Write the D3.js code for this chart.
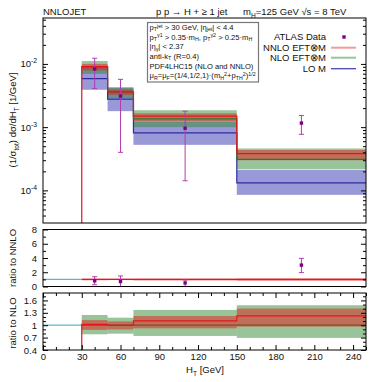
<!DOCTYPE html>
<html><head><meta charset="utf-8">
<script src="https://cdn.jsdelivr.net/npm/d3@7"></script>
<style>body{margin:0;background:#fff}svg{display:block;font-family:"Liberation Sans",Arial,sans-serif}</style>
</head><body>
<script>
// ---------------- data ----------------
const binEdges = [30, 50, 70, 150, 250];
const nnloC  = [9.1e-3, 3.6e-3, 1.49e-3, 3.8e-4];
const nnloLo = [7.9e-3, 3.25e-3, 1.25e-3, 3.0e-4];
const nnloHi = [1.0e-2, 3.95e-3, 1.65e-3, 4.35e-4];
const nloC   = [8.9e-3, 3.62e-3, 1.35e-3, 3.1e-4];
const nloLo  = [6.95e-3, 2.88e-3, 1.0e-3, 2.15e-4];
const nloHi  = [1.11e-2, 4.28e-3, 1.85e-3, 4.6e-4];
const loC    = [5.86e-3, 2.77e-3, 8.1e-4, 1.31e-4];
const loLo   = [3.9e-3, 1.79e-3, 5.25e-4, 8.5e-5];
const loHi   = [8.8e-3, 4.2e-3, 1.23e-3, 2.1e-4];
const dataX  = [40, 60, 110, 200];
const dataY  = [8.3e-3, 3.1e-3, 9.6e-4, 1.16e-3];
const dataLo = [4.1e-3, 4.0e-4, 1.42e-4, 7.7e-4];
const dataHi = [1.23e-2, 5.7e-3, 1.79e-3, 1.53e-3];
const ratioDataY  = [0.8, 0.7, 0.5, 3.0];
const ratioDataLo = [0.25, 0.0, 0.0, 1.95];
const ratioDataHi = [1.37, 1.48, 0.92, 3.95];
const xTicks = [0, 30, 60, 90, 120, 150, 180, 210, 240];
const mainYTicks = [1e-4, 1e-3, 1e-2];
const mainYLabels = [["10","-4"],["10","-3"],["10","-2"]];
const r1Ticks = [0, 2, 4, 6, 8];
const r2Ticks = [0.4, 0.7, 1, 1.3, 1.6];
const r2Labels = ["0.4", "0.7", "1", "1.3", "1.6"];
const legendLabels = ["ATLAS Data", "NNLO EFT⊗M", "NLO EFT⊗M", "LO M"];

// ---------------- setup ----------------
const svg = d3.select("body").append("svg").attr("width", 382).attr("height", 382);
const FS = 9.5;
const x = d3.scaleLinear([0, 250], [43, 366]);
const yM = d3.scaleLog([3.05e-5, 0.0532], [223, 18]);
const yR1 = d3.scaleLinear([0, 8], [286.5, 229.5]);
const yR2 = d3.scaleLinear([0.4, 1.78], [350, 293]);

const C = {
  loBand: "#3333b0", nloBand: "#338933", nnloBand: "#e31b1b",
  lo: "#2c2ca0", nlo: "#2a7a2a", nnlo: "#e8141c", cyan: "#5cb8c0",
  dat: "#800080", err: "#b23cb2"
};

function rich(textSel, segs, fs, supK = 0.38, subK = 0.28) {
  const sup = -supK * fs, sub = subK * fs, small = 0.7 * fs;
  let cur = 0;
  segs.forEach(seg => {
    if (typeof seg === "string") {
      textSel.append("tspan").attr("dy", -cur).text(seg);
      cur = 0;
    } else if (seg.sup !== undefined) {
      textSel.append("tspan").attr("font-size", small).attr("dy", sup - cur).text(seg.sup);
      cur = sup;
    } else {
      textSel.append("tspan").attr("font-size", small).attr("dy", sub - cur).text(seg.sub);
      cur = sub;
    }
  });
}

const bins = d3.range(binEdges.length - 1).map(i => ({x0: binEdges[i], x1: binEdges[i + 1], i}));

function clip(id, y0, y1) {
  svg.append("clipPath").attr("id", id).append("rect")
    .attr("x", x(0)).attr("y", y0).attr("width", x(250) - x(0)).attr("height", y1 - y0);
  return svg.append("g").attr("clip-path", `url(#${id})`);
}
function stepPath(vals, y, startBottom, bottomY) {
  const p = d3.path();
  if (startBottom) { p.moveTo(x(binEdges[0]), bottomY); p.lineTo(x(binEdges[0]), y(vals[0])); }
  else p.moveTo(x(binEdges[0]), y(vals[0]));
  vals.forEach((v, i) => {
    p.lineTo(x(binEdges[i]), y(v));
    p.lineTo(x(binEdges[i + 1]), y(v));
  });
  return p.toString();
}
function bands(g, lo, hi, y, color, op) {
  g.selectAll(null).data(bins).join("rect")
    .attr("x", d => x(d.x0)).attr("width", d => x(d.x1) - x(d.x0))
    .attr("y", d => y(hi[d.i])).attr("height", d => y(lo[d.i]) - y(hi[d.i]))
    .attr("fill", color).attr("fill-opacity", op);
}
function errPoints(g, xs, ys, los, his, y) {
  xs.forEach((xv, i) => {
    const cx = x(xv);
    const top = y(his[i]), bot = y(los[i]);
    g.append("line").attr("x1", cx).attr("x2", cx).attr("y1", top).attr("y2", bot).attr("stroke", C.err).attr("stroke-width", 1);
    g.append("line").attr("x1", cx - 2.5).attr("x2", cx + 2.5).attr("y1", top).attr("y2", top).attr("stroke", C.err).attr("stroke-width", 1);
    g.append("line").attr("x1", cx - 2.5).attr("x2", cx + 2.5).attr("y1", bot).attr("y2", bot).attr("stroke", C.err).attr("stroke-width", 1);
    g.append("rect").attr("x", cx - 1.7).attr("y", y(ys[i]) - 1.7).attr("width", 3.4).attr("height", 3.4).attr("fill", C.dat);
  });
}
function yAxes(scale, major, minor, labels) {
  const gl = svg.append("g").attr("transform", `translate(${x(0)},0)`)
    .call(d3.axisLeft(scale).tickValues(major).tickSize(-5).tickPadding(6).tickFormat((d, i) => labels ? labels[i] : ""));
  gl.select(".domain").remove();
  gl.selectAll("text").attr("font-size", FS).attr("font-family", "Liberation Sans").attr("fill", "#111");
  const gm = svg.append("g").attr("transform", `translate(${x(0)},0)`)
    .call(d3.axisLeft(scale).tickValues(minor).tickSize(-3).tickFormat(""));
  gm.select(".domain").remove();
  const gr = svg.append("g").attr("transform", `translate(${x(250)},0)`)
    .call(d3.axisRight(scale).tickValues(major).tickSize(-5).tickFormat(""));
  gr.select(".domain").remove();
  const grm = svg.append("g").attr("transform", `translate(${x(250)},0)`)
    .call(d3.axisRight(scale).tickValues(minor).tickSize(-3).tickFormat(""));
  grm.select(".domain").remove();
  return gl;
}
function frame(y0, y1) {
  svg.append("rect").attr("x", x(0)).attr("y", y0).attr("width", x(250) - x(0)).attr("height", y1 - y0)
    .attr("fill", "none").attr("stroke", "#000").attr("stroke-width", 1);
}

// ---------------- main panel ----------------
const gM = clip("cM", 18, 223);
bands(gM, loLo, loHi, yM, C.loBand, 0.5);
bands(gM, nloLo, nloHi, yM, C.nloBand, 0.5);
bands(gM, nnloLo, nnloHi, yM, C.nnloBand, 0.5);
gM.append("path").attr("d", stepPath(loC, yM, false)).attr("fill", "none").attr("stroke", C.lo).attr("stroke-width", 1.2);
gM.append("path").attr("d", stepPath(nloC, yM, false)).attr("fill", "none").attr("stroke", C.nlo).attr("stroke-width", 1.2);
gM.append("path").attr("d", stepPath(nnloC, yM, true, 224)).attr("fill", "none").attr("stroke", C.nnlo).attr("stroke-width", 1.2);
errPoints(gM, dataX, dataY, dataLo, dataHi, yM);

const logMinor = [];
[-5, -4, -3, -2].forEach(e => d3.range(2, 10).forEach(m => {
  const v = m * Math.pow(10, e);
  if (v > yM.domain()[0] && v < yM.domain()[1]) logMinor.push(v);
}));
yAxes(yM, mainYTicks, logMinor, null);
mainYTicks.forEach((v, i) => {
  const t = svg.append("text").attr("x", 37).attr("y", yM(v) + 3.5).attr("text-anchor", "end")
    .attr("font-size", FS).attr("fill", "#111");
  t.append("tspan").text(mainYLabels[i][0]);
  t.append("tspan").attr("font-size", 6.8).attr("dy", -4).text(mainYLabels[i][1]);
});
frame(18, 223);

// ---------------- ratio to NNLO ----------------
const g1 = clip("c1", 229.5, 286.5);
const r1Lo = nnloLo.map((v, i) => v / nnloC[i]);
const r1Hi = nnloHi.map((v, i) => v / nnloC[i]);
const r1C = nnloC.map((v, i) => v / nnloC[i]);
bands(g1, r1Lo, r1Hi, yR1, C.nnloBand, 0.5);
g1.append("line").attr("x1", x(0)).attr("x2", x(30)).attr("y1", yR1(1)).attr("y2", yR1(1)).attr("stroke", C.cyan).attr("stroke-width", 1.2);
g1.append("path").attr("d", stepPath(r1C, yR1, false)).attr("fill", "none").attr("stroke", C.nnlo).attr("stroke-width", 1.2);
errPoints(g1, dataX, ratioDataY, ratioDataLo, ratioDataHi, yR1);
yAxes(yR1, r1Ticks, [1, 3, 5, 7], r1Ticks.map(String));
frame(229.5, 286.5);

// ---------------- ratio to NLO ----------------
const g2 = clip("c2", 293, 350);
const nloRLo = nloLo.map((v, i) => v / nloC[i]);
const nloRHi = nloHi.map((v, i) => v / nloC[i]);
const nloR = nloC.map((v, i) => v / nloC[i]);
const nnloRLo = nnloLo.map((v, i) => v / nloC[i]);
const nnloRHi = nnloHi.map((v, i) => v / nloC[i]);
const nnloR = nnloC.map((v, i) => v / nloC[i]);
bands(g2, nloRLo, nloRHi, yR2, C.nloBand, 0.5);
g2.append("path").attr("d", stepPath(nloR, yR2, false)).attr("fill", "none").attr("stroke", C.nlo).attr("stroke-width", 1.2);
bands(g2, nnloRLo, nnloRHi, yR2, C.nnloBand, 0.5);
g2.append("line").attr("x1", x(0)).attr("x2", x(30)).attr("y1", yR2(1)).attr("y2", yR2(1)).attr("stroke", C.cyan).attr("stroke-width", 1.2);
g2.append("path").attr("d", stepPath(nnloR, yR2, true, 351)).attr("fill", "none").attr("stroke", C.nnlo).attr("stroke-width", 1.2);
const r2Minor = d3.range(5, 18).map(v => v / 10).filter(v => !r2Ticks.some(t => Math.abs(t - v) < 1e-6));
yAxes(yR2, r2Ticks, r2Minor, r2Labels);
// x axes
const xMinor = d3.range(0, 251, 10).filter(v => v % 30 !== 0);
const gxb = svg.append("g").attr("transform", "translate(0,350)")
  .call(d3.axisBottom(x).tickValues(xTicks).tickSize(-5).tickPadding(3));
gxb.select(".domain").remove();
gxb.selectAll("text").attr("font-size", FS).attr("font-family", "Liberation Sans").attr("fill", "#111");
svg.append("g").attr("transform", "translate(0,350)")
  .call(d3.axisBottom(x).tickValues(xMinor).tickSize(-3).tickFormat("")).select(".domain").remove();
svg.append("g").attr("transform", "translate(0,293)")
  .call(d3.axisTop(x).tickValues(xTicks).tickSize(-5).tickFormat("")).select(".domain").remove();
svg.append("g").attr("transform", "translate(0,293)")
  .call(d3.axisTop(x).tickValues(xMinor).tickSize(-3).tickFormat("")).select(".domain").remove();
frame(293, 350);

// ---------------- titles & labels ----------------
svg.append("text").attr("x", 43).attr("y", 15).attr("font-size", FS).attr("fill", "#111").text("NNLOJET");
svg.append("text").attr("x", 156).attr("y", 15).attr("font-size", FS).attr("fill", "#111").text("p p → H + ≥ 1 jet");
rich(svg.append("text").attr("x", 243).attr("y", 15).attr("font-size", FS).attr("fill", "#111"),
  ["m", {sub: "H"}, "=125 GeV √s  = 8 TeV"], FS);

rich(svg.append("text").attr("transform", "translate(16,120) rotate(-90)").attr("text-anchor", "middle").attr("font-size", FS).attr("fill", "#111"),
  ["(1/σ", {sub: "tot"}, ") dσ/dH", {sub: "T"}, " [1/GeV]"], FS);
svg.append("text").attr("transform", "translate(16,258) rotate(-90)").attr("text-anchor", "middle").attr("font-size", FS).attr("fill", "#111").text("ratio to NNLO");
svg.append("text").attr("transform", "translate(16,323) rotate(-90)").attr("text-anchor", "middle").attr("font-size", FS).attr("fill", "#111").text("ratio to NLO");
rich(svg.append("text").attr("x", 205).attr("y", 373).attr("text-anchor", "middle").attr("font-size", FS).attr("fill", "#111"),
  ["H", {sub: "T"}, " [GeV]"], FS);

// cuts box
svg.append("rect").attr("x", 147.5).attr("y", 22.5).attr("width", 111).attr("height", 59.5)
  .attr("fill", "#fff").attr("stroke", "#777").attr("stroke-width", 1.2);
const cutLines = [
  ["p", {sub: "T"}, {sup: "jet"}, " > 30 GeV, |η", {sub: "jet"}, "| < 4.4"],
  ["p", {sub: "T"}, {sup: "γ1"}, " > 0.35·m", {sub: "H"}, ", p", {sub: "T"}, {sup: "γ2"}, " > 0.25·m", {sub: "H"}],
  ["|η", {sub: "γ"}, "| < 2.37"],
  ["anti-k", {sub: "T"}, "   (R=0.4)"],
  ["PDF4LHC15 (NLO and NNLO)"],
  ["μ", {sub: "R"}, "=μ", {sub: "F"}, "=(1/4,1/2,1)·(m", {sub: "H"}, {sup: "2"}, "+p", {sub: "TH"}, {sup: "2"}, ")", {sup: "1/2"}]
];
cutLines.forEach((segs, i) => {
  rich(svg.append("text").attr("x", 149.5).attr("y", 29.8 + i * 9.7).attr("font-size", 7.6).attr("fill", "#111"), segs, 7.6, 0.3, 0.2);
});

// legend
const legY = [40, 51, 61, 72];
legendLabels.forEach((lab, i) => {
  svg.append("text").attr("x", 326).attr("y", legY[i]).attr("text-anchor", "end").attr("font-size", FS).attr("fill", "#111").text(lab);
});
svg.append("rect").attr("x", 342.3).attr("y", legY[0] - 4.7).attr("width", 3.4).attr("height", 3.4).attr("fill", C.dat);
const legLine = [[null], ["#f49a9a", 2], ["#99c499", 2], ["#4848a8", 1.3]];
[1, 2, 3].forEach(i => {
  svg.append("line").attr("x1", 331).attr("x2", 356).attr("y1", legY[i] - 3.3).attr("y2", legY[i] - 3.3)
    .attr("stroke", legLine[i][0]).attr("stroke-width", legLine[i][1]);
});
</script>
</body></html>
